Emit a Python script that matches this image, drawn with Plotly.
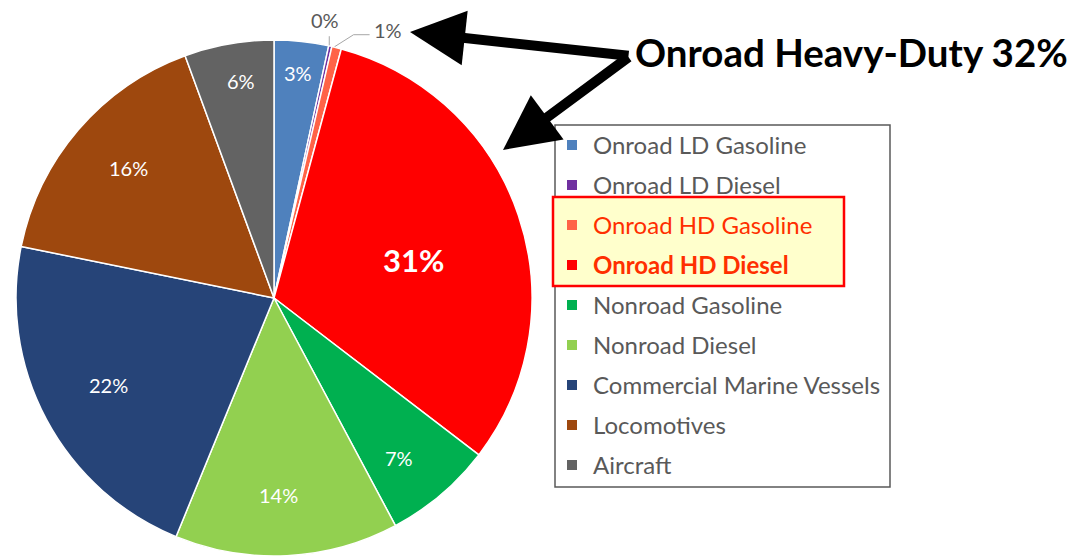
import math
import plotly.graph_objects as go

# ---------------- data ----------------
categories = ["Onroad LD Gasoline", "Onroad LD Diesel", "Onroad HD Gasoline",
              "Onroad HD Diesel", "Nonroad Gasoline", "Nonroad Diesel",
              "Commercial Marine Vessels", "Locomotives", "Aircraft"]
shares = [3.4, 0.2, 0.6, 31.2, 6.8, 14.0, 22.0, 16.2, 5.6]
colors = ["#4F81BD", "#7030A0", "#FF6347", "#FF0000", "#00B050",
          "#92D050", "#264478", "#9E480E", "#636363"]
highlighted = ["Onroad HD Gasoline", "Onroad HD Diesel"]
callout_text = "Onroad Heavy-Duty 32%"

# ---------------- styling ----------------
W, H = 1071, 559
FONT = "Lato"
GRAY = "#595959"
cx, cy, R = 274, 298, 258           # pie geometry in pixel space
label_radius = [0.876, 0, 0, 0.562, 0.787, 0.764, 0.726, 0.755, 0.851]  # inside-label placement
label_turn = [0, 0, 0, 3.5, 2.3, 1.7, 0.4, 1.2, 1.5]                      # degrees past slice middle
outside = [1, 2]                    # tiny slices labelled outside

total = sum(shares)

fig = go.Figure()
fig.add_trace(go.Pie(
    labels=categories, values=shares, sort=False, direction="clockwise",
    rotation=0, marker=dict(colors=colors, line=dict(color="white", width=1.5)),
    textinfo="none", showlegend=False, hoverinfo="label+percent",
    domain=dict(x=[(cx - R) / W, (cx + R) / W], y=[1 - (cy + R) / H, 1 - (cy - R) / H]),
))

shapes = []
annotations = []


def mid_angle(i):
    before = sum(shares[:i])
    return 2 * math.pi * (before + shares[i] / 2) / total


def pct(i):
    return "%d%%" % round(shares[i] / total * 100)


# inside labels
for i, c in enumerate(categories):
    if i in outside:
        continue
    th = mid_angle(i) + math.radians(label_turn[i])
    r = R * label_radius[i]
    bold = c == "Onroad HD Diesel"
    annotations.append(dict(
        x=cx + r * math.sin(th), y=cy - r * math.cos(th), xref="x", yref="y",
        showarrow=False, text=("<b>%s</b>" % pct(i)) if bold else pct(i),
        font=dict(family=FONT, size=31 if bold else 20, color="white")))

# outside labels for the tiny slices with leader lines
th = mid_angle(1)
px, py = cx + R * math.sin(th), cy - R * math.cos(th)
shapes.append(dict(type="line", xref="x", yref="y", x0=px - 1, y0=py - 1, x1=px - 1, y1=py - 10,
                   line=dict(color="#A6A6A6", width=1)))
annotations.append(dict(x=px - 5, y=py - 26, xref="x", yref="y", showarrow=False,
                        text=pct(1), font=dict(family=FONT, size=20, color=GRAY)))
th = mid_angle(2)
px, py = cx + R * math.sin(th), cy - R * math.cos(th)
shapes.append(dict(type="path", xref="x", yref="y",
                   path="M %f,%f L %f,%f L %f,%f" % (px - 2, py - 1, px + 17, py - 13, px + 33, py - 13),
                   line=dict(color="#A6A6A6", width=1)))
annotations.append(dict(x=px + 35, y=py - 18, xref="x", yref="y", showarrow=False, xanchor="left",
                        text=pct(2), font=dict(family=FONT, size=20, color=GRAY)))

# custom legend
lx0, ly0, lx1, ly1 = 555, 125, 890, 487
row0, dy = 144, 40
shapes.append(dict(type="rect", xref="x", yref="y", x0=lx0, y0=ly0, x1=lx1, y1=ly1,
                   line=dict(color=GRAY, width=1.5), fillcolor="white", layer="below"))
hi_idx = [categories.index(c) for c in highlighted]
shapes.append(dict(type="rect", xref="x", yref="y", x0=553,
                   y0=row0 + dy * min(hi_idx) - 27, x1=844, y1=row0 + dy * max(hi_idx) + 22,
                   line=dict(color="#FF0000", width=2.5), fillcolor="#FFFFCC", layer="below"))
for i, (c, col) in enumerate(zip(categories, colors)):
    yc = row0 + dy * i
    shapes.append(dict(type="rect", xref="x", yref="y", x0=567, x1=577, y0=yc - 4, y1=yc + 6,
                       line=dict(width=0), fillcolor=col))
    if c in highlighted:
        txt = "<b>%s</b>" % c if c == "Onroad HD Diesel" else c
        tcol = "#FF2F00"
    else:
        txt, tcol = c, GRAY
    annotations.append(dict(x=591, y=yc, xref="x", yref="y", xanchor="left", yanchor="middle",
                            showarrow=False, text=txt, font=dict(family=FONT, size=24, color=tcol)))

# callout text and arrows
annotations.append(dict(x=633, y=52, xref="x", yref="y", xanchor="left", yanchor="middle",
                        showarrow=False, text="<b>%s</b>" % callout_text,
                        font=dict(family=FONT, size=38.5, color="black")))
for hx, hy in [(410, 32), (503, 150)]:
    annotations.append(dict(x=hx, y=hy, xref="x", yref="y", ax=630, ay=56, axref="x", ayref="y",
                            showarrow=True, arrowhead=2, arrowwidth=10, arrowsize=1.1,
                            arrowcolor="black", text="", standoff=0, startstandoff=0))

fig.update_layout(
    width=W, height=H, margin=dict(l=0, r=0, t=0, b=0),
    paper_bgcolor="white", plot_bgcolor="white",
    xaxis=dict(range=[0, W], visible=False, fixedrange=True),
    yaxis=dict(range=[H, 0], visible=False, fixedrange=True),
    shapes=shapes, annotations=annotations,
)

fig.write_html("out.html", config={"displayModeBar": False},
               post_script="document.body.style.margin='0';")
